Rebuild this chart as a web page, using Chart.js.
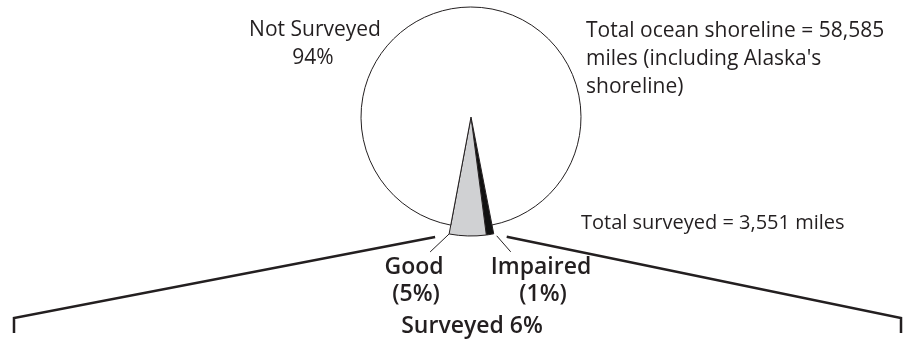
<!DOCTYPE html>
<html>
<head>
<meta charset="utf-8">
<script src="https://cdn.jsdelivr.net/npm/chart.js@4.4.1/dist/chart.umd.min.js"></script>
<style>
  html, body { margin: 0; padding: 0; background: #fff; }
  #wrap { width: 916px; height: 339px; }
</style>
</head>
<body>
<div id="wrap"><canvas id="pieChart" width="916" height="339"></canvas></div>
<script>
// Données du graphique (part du littoral océanique, en %)
const categories = ['Impaired', 'Good', 'Not Surveyed'];
const percents = [1, 5, 94];
const sliceColors = ['#111111', '#d0d1d3', '#ffffff'];

// Textes
const notSurveyedLabel = ['Not Surveyed', '94%'];
const totalLabel = ['Total ocean shoreline = 58,585', 'miles (including Alaska\'s', 'shoreline)'];
const surveyedTotalLabel = 'Total surveyed = 3,551 miles';
const goodLabel = ['Good', '(5%)'];
const impairedLabel = ['Impaired', '(1%)'];
const surveyedLabel = 'Surveyed 6%';

const FONT = '"Open Sans", "DejaVu Sans", sans-serif';
const TEXT_COLOR = '#231f20';

// Le cercle "Not Surveyed" est un peu plus petit que la pointe "Surveyed"
const smallSlice = {
  id: 'smallSlice',
  beforeDatasetsDraw(chart) {
    const meta = chart.getDatasetMeta(0);
    const arc = meta.data[2];
    arc.outerRadius = meta.controller.outerRadius * 110 / 119;
  }
};

// Textes et traits d'annotation
const annotations = {
  id: 'annotations',
  afterDraw(chart) {
    const ctx = chart.ctx;
    const meta = chart.getDatasetMeta(0);
    const imp = meta.data[0];
    const good = meta.data[1];
    const cx = imp.x, cy = imp.y, r = imp.outerRadius;

    // coins bas de la pointe
    const pt = (a, rad) => [cx + Math.cos(a) * rad, cy + Math.sin(a) * rad];
    const right = pt(imp.startAngle, r);
    const left = pt(good.endAngle, r);

    ctx.save();
    ctx.strokeStyle = '#231f20';
    ctx.lineCap = 'butt';

    // traits fins vers Good / Impaired
    ctx.lineWidth = 1;
    ctx.beginPath();
    ctx.moveTo(left[0], left[1]);
    ctx.lineTo(left[0] - 19, left[1] + 18);
    ctx.moveTo(right[0] + 3, right[1] + 2);
    ctx.lineTo(right[0] + 17, right[1] + 18);
    ctx.stroke();

    // accolade "Surveyed"
    ctx.lineWidth = 2.5;
    ctx.beginPath();
    ctx.moveTo(14, 333);
    ctx.lineTo(14, 318);
    ctx.lineTo(left[0] - 14, left[1] + 3);
    ctx.moveTo(right[0] + 13, right[1] + 3);
    ctx.lineTo(901, 318);
    ctx.lineTo(901, 333);
    ctx.stroke();

    // textes
    ctx.fillStyle = TEXT_COLOR;
    ctx.textBaseline = 'alphabetic';
    ctx.font = '21px ' + FONT;
    ctx.textAlign = 'center';
    ctx.fillText(notSurveyedLabel[0], 315, 36);
    ctx.fillText(notSurveyedLabel[1], 313, 64);
    ctx.textAlign = 'left';
    totalLabel.forEach((t, i) => ctx.fillText(t, 586, 37 + i * 28));
    ctx.font = '20px ' + FONT;
    ctx.fillText(surveyedTotalLabel, 581, 229);

    ctx.font = '600 23px ' + FONT;
    ctx.textAlign = 'center';
    ctx.fillText(goodLabel[0], 414, 274);
    ctx.fillText(goodLabel[1], 416, 301);
    ctx.fillText(impairedLabel[0], 541, 274);
    ctx.fillText(impairedLabel[1], 543, 301);
    ctx.fillText(surveyedLabel, 472, 333);
    ctx.restore();
  }
};

const ctxPie = document.getElementById('pieChart').getContext('2d');
const pieChart = new Chart(ctxPie, {
  type: 'pie',
  data: {
    labels: categories,
    datasets: [{
      data: percents,
      backgroundColor: sliceColors,
      borderColor: '#231f20',
      borderWidth: 1,
      clip: false
    }]
  },
  options: {
    responsive: false,
    animation: false,
    rotation: 169,
    radius: 119,
    layout: { padding: { left: 352, right: 326, top: 0, bottom: 105 } },
    plugins: {
      legend: { display: false },
      tooltip: { enabled: false }
    }
  },
  plugins: [smallSlice, annotations]
});
</script>
</body>
</html>
